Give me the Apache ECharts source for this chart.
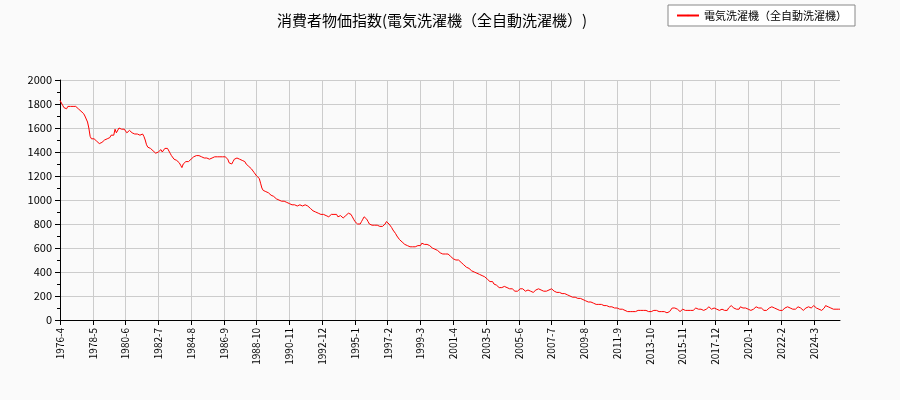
<!DOCTYPE html>
<html><head><meta charset="utf-8">
<script src="https://cdn.jsdelivr.net/npm/echarts@6/dist/echarts.min.js"></script>
<style>body{margin:0;background:#fafafa}#c{width:900px;height:400px}</style>
</head><body><div id="c"></div>
<script>
const startYear = 1976, startMonth = 4;
const v1976 = [1830,1820,1790,1770,1770,1760,1780,1790,1780];
const v1977 = [1770,1780,1790,1780,1770,1760,1750,1740,1730,1720,1700,1690];
const v1978 = [1650,1600,1530,1510,1500,1510,1500,1490,1480,1470,1480,1480];
const v1979 = [1490,1500,1500,1510,1500,1520,1540,1550,1540,1590,1560,1550];
const v1980 = [1600,1590,1590,1600,1590,1580,1560,1550,1580,1570,1560,1560];
const v1981 = [1550,1550,1550,1540,1540,1540,1550,1530,1500,1460,1440,1430];
const v1982 = [1430,1420,1410,1400,1390,1380,1400,1410,1420,1400,1410,1430];
const v1983 = [1430,1430,1420,1390,1370,1360,1340,1350,1330,1320,1310,1290];
const v1984 = [1270,1300,1310,1320,1310,1320,1330,1340,1350,1360,1370,1370];
const v1985 = [1370,1370,1360,1360,1360,1350,1350,1350,1350,1340,1340,1350];
const v1986 = [1360,1360,1360,1360,1350,1360,1360,1360,1360,1360,1360,1340];
const v1987 = [1310,1300,1300,1320,1340,1340,1350,1340,1340,1340,1330,1320];
const v1988 = [1320,1300,1290,1280,1270,1260,1250,1230,1220,1200,1190,1180];
const v1989 = [1140,1100,1080,1080,1070,1070,1060,1050,1040,1030,1030,1020];
const v1990 = [1010,1010,1000,1000,990,990,990,980,980,980,970,970];
const v1991 = [960,960,960,950,950,950,960,950,950,950,960,950];
const v1992 = [950,940,930,920,910,900,900,890,890,880,880,890];
const v1993 = [880,880,870,870,860,870,880,890,880,870,880,860];
const v1994 = [860,870,860,850,860,870,860,890,900,880,860,840];
const v1995 = [820,810,800,790,800,820,840,860,850,840,820,800];
const v1996 = [800,790,790,790,790,790,790,780,790,780,790,800];
const v1997 = [820,810,800,790,770,750,740,720,700,690,670,660];
const v1998 = [650,640,630,620,620,610,610,610,610,600,610,610];
const v1999 = [620,630,620,640,640,630,640,630,620,620,610,600];
const v2000 = [600,590,590,580,570,560,560,550,550,550,550,550];
const v2001 = [540,530,520,510,510,500,500,500,490,480,470,460];
const v2002 = [450,440,440,430,420,410,410,400,390,390,380,380];
const v2003 = [380,370,360,360,350,340,330,320,330,320,300,290];
const v2004 = [290,280,270,260,270,280,280,280,270,270,260,260];
const v2005 = [260,250,240,230,240,250,260,270,260,250,240,240];
const v2006 = [250,250,240,240,230,240,250,250,260,260,250,240];
const v2007 = [240,230,240,250,250,260,260,250,240,240,230,230];
const v2008 = [230,230,220,220,220,210,210,200,200,200,190,190];
const v2009 = [190,190,180,180,180,170,170,160,160,150,150,150];
const v2010 = [150,140,140,140,130,130,130,130,130,120,120,120];
const v2011 = [120,120,110,110,110,110,100,100,100,100,90,90];
const v2012 = [90,90,80,80,70,70,70,70,70,60,70,80];
const v2013 = [80,80,80,80,80,80,80,80,70,70,70,80];
const v2014 = [80,80,80,80,70,70,70,80,70,70,60,70];
const v2015 = [70,80,100,110,100,90,90,80,70,80,90,80];
const v2016 = [80,70,80,80,80,80,80,90,100,100,90,90];
const v2017 = [90,80,80,80,90,100,110,100,90,90,100,100];
const v2018 = [90,90,80,80,90,90,80,80,80,100,110,120];
const v2019 = [110,100,100,90,100,90,110,110,100,100,100,90];
const v2020 = [90,80,80,80,90,90,110,120,100,100,100,90];
const v2021 = [80,80,80,90,100,100,110,110,100,100,90,90];
const v2022 = [80,80,80,90,100,110,110,110,100,90,90,90];
const v2023 = [90,100,110,110,100,90,80,90,100,110,110,100];
const v2024 = [100,110,120,110,100,100,90,90,80,90,100,120];
const v2025 = [110,110,100,100,90,90,90,90,80,90,90];
const values = [].concat(v1976,v1977,v1978,v1979,v1980,v1981,v1982,v1983,v1984,v1985,v1986,v1987,v1988,v1989,v1990,v1991,v1992,v1993,v1994,v1995,v1996,v1997,v1998,v1999,v2000,v2001,v2002,v2003,v2004,v2005,v2006,v2007,v2008,v2009,v2010,v2011,v2012,v2013,v2014,v2015,v2016,v2017,v2018,v2019,v2020,v2021,v2022,v2023,v2024,v2025);
const categories = values.map((_, i) => {
  const t = (startYear * 12 + startMonth - 1) + i;
  return Math.floor(t / 12) + '-' + (t % 12 + 1);
});
const F = '"Noto Sans CJK JP", sans-serif';
const chart = echarts.init(document.getElementById('c'));
chart.setOption({
  backgroundColor: '#fafafa',
  animation: false,
  title: { text: '消費者物価指数(電気洗濯機（全自動洗濯機）)', left: 272, top: 8,
    textStyle: { fontFamily: F, fontSize: 15, fontWeight: 'normal', color: '#000' } },
  legend: { right: 45, top: 5, orient: 'horizontal', borderColor: '#888', borderWidth: 1, borderRadius: 0,
    padding: [5, 8], backgroundColor: '#fff', itemWidth: 22, itemHeight: 2,
    textStyle: { fontFamily: F, fontSize: 11, color: '#000' } },
  grid: { left: 60, right: 60, top: 80, bottom: 80 },
  xAxis: { type: 'category', data: categories, boundaryGap: false,
    axisLine: { lineStyle: { color: '#000' } },
    axisTick: { interval: 24, lineStyle: { color: '#000' } },
    axisLabel: { interval: 24, rotate: 90, fontFamily: F, fontSize: 10, color: '#000' },
    splitLine: { show: true, interval: 24, lineStyle: { color: '#ccc' } } },
  yAxis: { type: 'value', min: 0, max: 2000, interval: 200,
    axisLine: { show: true, lineStyle: { color: '#000' } },
    axisTick: { show: true, lineStyle: { color: '#000' } },
    minorTick: { show: true, splitNumber: 2, lineStyle: { color: '#000' } },
    axisLabel: { fontFamily: F, fontSize: 11, color: '#000', formatter: v => String(v) },
    splitLine: { lineStyle: { color: '#ccc' } } },
  series: [{ name: '電気洗濯機（全自動洗濯機）', type: 'line', data: values, symbol: 'none',
    lineStyle: { color: '#ff0000', width: 1 }, itemStyle: { color: '#ff0000' } }]
});
</script></body></html>
